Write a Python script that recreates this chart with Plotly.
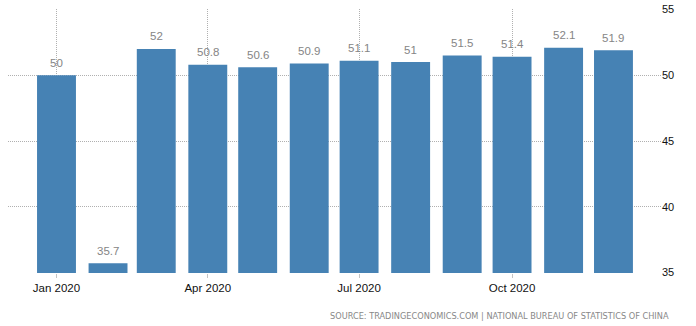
import plotly.graph_objects as go

months = ["2020-01-01", "2020-02-01", "2020-03-01", "2020-04-01", "2020-05-01", "2020-06-01",
          "2020-07-01", "2020-08-01", "2020-09-01", "2020-10-01", "2020-11-01", "2020-12-01"]
values = [50, 35.7, 52, 50.8, 50.6, 50.9, 51.1, 51, 51.5, 51.4, 52.1, 51.9]
labels = ["50", "35.7", "52", "50.8", "50.6", "50.9", "51.1", "51", "51.5", "51.4", "52.1", "51.9"]
y_ticks = [35, 40, 45, 50, 55]
source = "SOURCE: TRADINGECONOMICS.COM | NATIONAL BUREAU OF STATISTICS OF CHINA"

DAY = 86400000
FONT = "Liberation Sans"

fig = go.Figure()
fig.add_trace(go.Bar(
    x=months, y=values,
    marker=dict(color="#4682b4", line=dict(width=0)),
    width=23.4 * DAY,
))

annotations = [dict(
    x=m, y=v, text=t, xref="x", yref="y", showarrow=False,
    xanchor="center", yanchor="middle", yshift=12.5,
    font=dict(family=FONT, size=11.5, color="#858585"),
) for m, v, t in zip(months, values, labels)]

annotations.append(dict(
    text=source, xref="paper", yref="paper", x=1.015, y=-0.163,
    xanchor="right", yanchor="middle", showarrow=False,
    font=dict(family="DejaVu Sans", size=8.2, color="#888888"),
))

fig.update_layout(
    width=696, height=326,
    margin=dict(l=8, r=35, t=9, b=53, autoexpand=False),
    paper_bgcolor="white", plot_bgcolor="white",
    showlegend=False,
    font=dict(family=FONT, size=11.5, color="#111111"),
    xaxis=dict(
        type="date", range=["2019-12-02 20:00", "2020-12-29 14:00"],
        tick0="2020-01-01", dtick="M3", tickformat="%b %Y",
        showgrid=True, gridcolor="#b0b0b0", griddash="1px,1px", gridwidth=1,
        ticks="outside", ticklen=4, tickcolor="#c4c4c4",
        showline=False, zeroline=False, automargin=False,
        tickfont=dict(family=FONT, size=11.5, color="#111111"),
    ),
    yaxis=dict(
        side="right", range=[34.96, 55.04],
        tickvals=y_ticks,
        showgrid=True, gridcolor="#b0b0b0", griddash="1px,1px", gridwidth=1,
        zeroline=False, showline=False, ticks="",
        automargin=False,
        tickfont=dict(family=FONT, size=11, color="#111111"),
    ),
    annotations=annotations,
)

fig.write_html("out.html")
